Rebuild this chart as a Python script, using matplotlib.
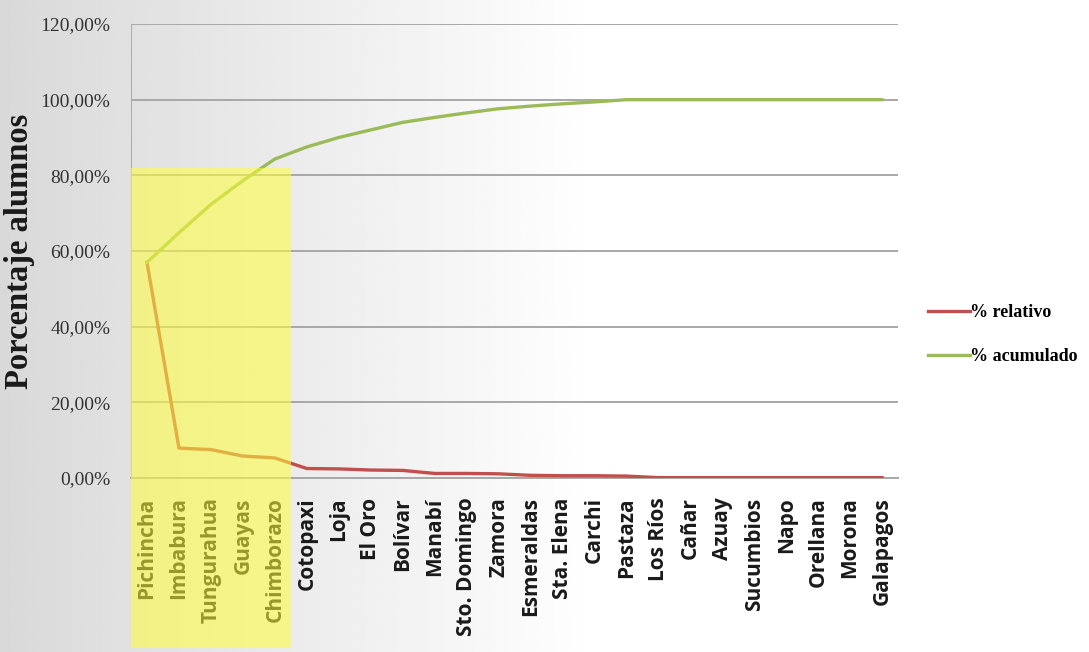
import numpy as np
import matplotlib
matplotlib.use("Agg")
import matplotlib.pyplot as plt
from matplotlib.patches import Rectangle
from matplotlib.ticker import FuncFormatter

# provincias ordenadas (pareto)
provincias = ["Pichincha", "Imbabura", "Tungurahua", "Guayas", "Chimborazo",
              "Cotopaxi", "Loja", "El Oro", "Bolívar", "Manabí", "Sto. Domingo",
              "Zamora", "Esmeraldas", "Sta. Elena", "Carchi", "Pastaza",
              "Los Ríos", "Cañar", "Azuay", "Sucumbios", "Napo", "Orellana",
              "Morona", "Galapagos"]

relativo = [57.0, 7.9, 7.5, 5.8, 5.3, 2.5, 2.4, 2.1, 2.0, 1.2, 1.2, 1.1,
            0.7, 0.6, 0.6, 0.5, 0.1, 0.1, 0.1, 0.1, 0.1, 0.1, 0.1, 0.1]

acumulado = [57.0, 64.8, 72.3, 78.6, 84.3, 87.5, 90.0, 92.0, 94.0, 95.3,
             96.5, 97.6, 98.3, 98.9, 99.4, 100.0, 100.0, 100.0, 100.0, 100.0,
             100.0, 100.0, 100.0, 100.0]

yticks = [0, 20, 40, 60, 80, 100, 120]

fig = plt.figure(figsize=(10.89, 6.52), dpi=100)

# fondo difuminado (gris a la izquierda, blanco a la derecha)
bg = fig.add_axes([0, 0, 1, 1], zorder=-10)
gx = np.linspace(0, 1, 400)
grad = np.clip(0.85 + 0.15 * gx / 0.55, 0, 1)
bg.imshow(np.tile(grad, (10, 1)), cmap="gray", vmin=0, vmax=1,
          aspect="auto", extent=[0, 1, 0, 1])
bg.axis("off")

ax = fig.add_axes([0.1203, 0.2669, 0.7043, 0.6963])
ax.patch.set_alpha(0)

x = np.arange(len(provincias))
ax.plot(x, relativo, color="#c0504d", lw=2.4, label="% relativo", zorder=3)
ax.plot(x, acumulado, color="#9bbb59", lw=2.4, label="% acumulado", zorder=3)

ax.set_xlim(-0.5, len(provincias) - 0.5)
ax.set_ylim(0, 120)
ax.set_yticks(yticks)
ax.yaxis.set_major_formatter(FuncFormatter(lambda v, p: f"{v:.2f}%".replace(".", ",")))
ax.grid(axis="y", color="#a8a8a8", lw=1.4)
ax.set_axisbelow(True)

for s in ["top", "right"]:
    ax.spines[s].set_visible(False)
ax.spines["left"].set_color("#b0b0b0")
ax.spines["bottom"].set_color("#a8a8a8")
ax.spines["bottom"].set_linewidth(1.4)

ax.set_xticks(x)
ax.set_xticklabels(provincias, rotation=90, fontsize=15,
                   fontfamily="Open Sans", fontweight="bold", color="#1a1a1a")
ax.tick_params(axis="x", length=0, pad=14)
ax.tick_params(axis="y", length=0, pad=15)
for t in ax.get_yticklabels():
    t.set_fontfamily("Liberation Serif")
    t.set_fontsize(14)
    t.set_color("#333333")

ax.set_ylabel("Porcentaje alumnos", fontfamily="Liberation Serif",
              fontweight="bold", fontsize=23.5, labelpad=4, color="#1a1a1a")

# zona resaltada (80%)
ax.add_patch(Rectangle((-0.5, -45), 5.0, 127, facecolor="#ffff3a",
                       alpha=0.55, edgecolor="none", clip_on=False, zorder=10))

leg = ax.legend(loc="center left", bbox_to_anchor=(1.018, 0.316), frameon=False,
                handlelength=2.3, handletextpad=0.05, labelspacing=1.5,
                prop={"family": "Liberation Serif", "weight": "bold", "size": 13})

fig.savefig("out.png", dpi=100)
